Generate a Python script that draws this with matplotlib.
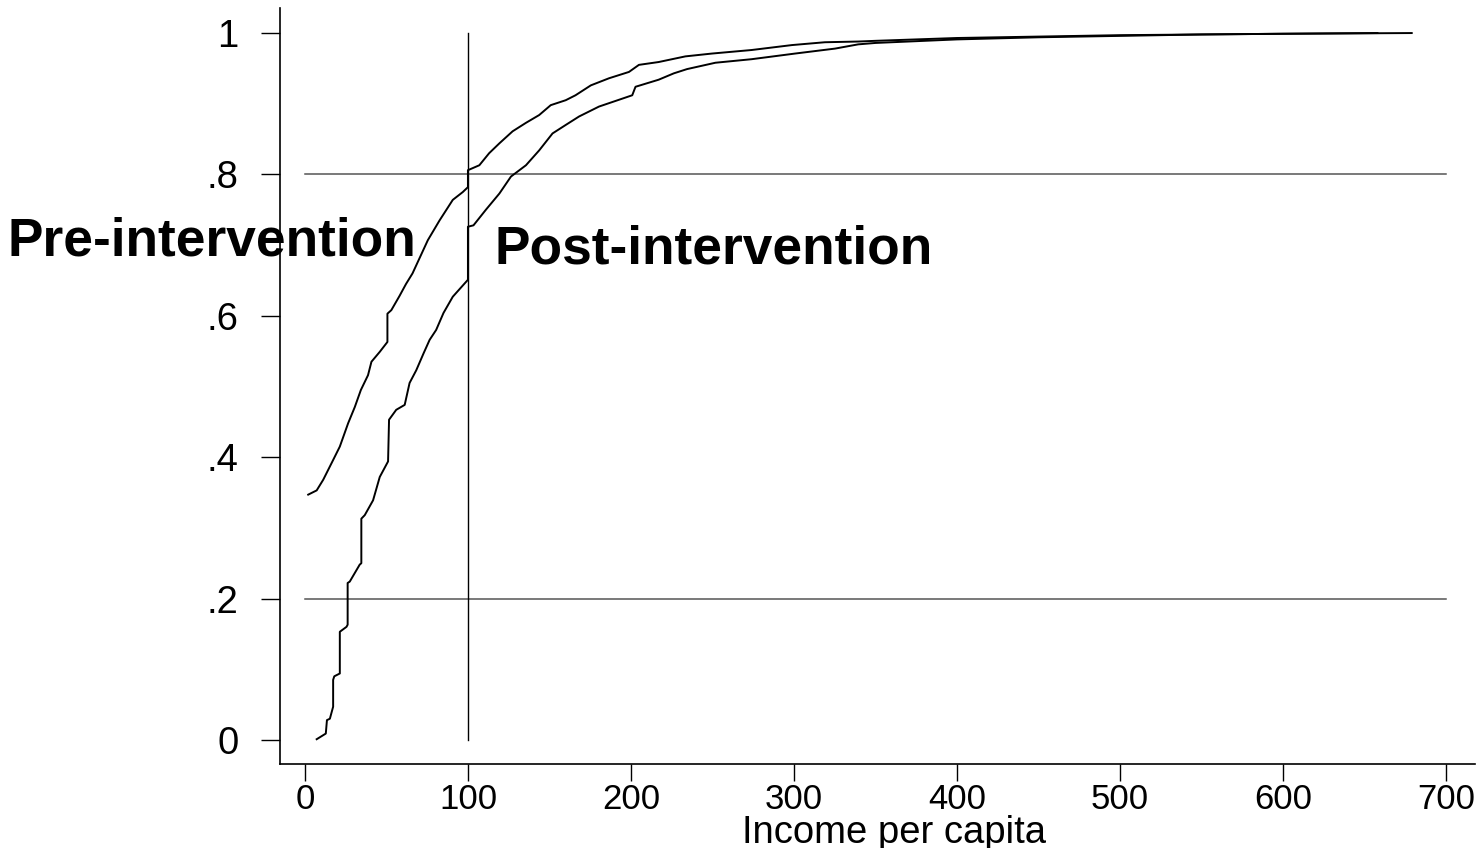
import numpy as np
import matplotlib
matplotlib.use("Agg")
import matplotlib.pyplot as plt

plt.rcParams["font.family"] = ["Liberation Sans", "DejaVu Sans"]

# Cumulative distribution of income per capita
pre_income = [2, 7.2, 11.2, 17.3, 21.4, 26.5, 30.6, 34.3, 38.7, 40.8,
              45.9, 50.6, 50.6, 53, 58, 62, 66, 75.4, 82.6, 90.7,
              96.8, 100, 100, 107, 113, 119.3, 127.4, 135.6, 143.7, 150.8,
              160, 166, 175.4, 186.5, 198.8, 204.9, 217, 233.4, 249.7, 274,
              298.8, 319, 339.4, 350, 400, 450, 500, 550, 600, 658]
pre_cdf = [0.347, 0.353, 0.368, 0.396, 0.415, 0.448, 0.471, 0.495, 0.516, 0.535,
           0.549, 0.563, 0.603, 0.608, 0.628, 0.645, 0.660, 0.707, 0.735, 0.764,
           0.775, 0.782, 0.806, 0.813, 0.830, 0.844, 0.861, 0.873, 0.884, 0.898,
           0.905, 0.912, 0.926, 0.936, 0.945, 0.955, 0.959, 0.967, 0.971, 0.976,
           0.983, 0.987, 0.988, 0.989, 0.993, 0.995, 0.997, 0.998, 0.999, 1.0]

post_income = [7.2, 12.8, 13.5, 15.3, 17.3, 17.3, 18, 21.4, 21.4, 25.5,
               26.2, 26.2, 27.5, 33.6, 34.6, 34.6, 36.7, 41.8, 45.9, 51,
               51.6, 56, 61.2, 64.2, 68.3, 72.8, 76.5, 80.5, 85, 90.7,
               100, 100, 103.4, 111, 119.3, 126.4, 135.6, 143.7, 151.9, 160,
               168.2, 180.4, 200.8, 202.8, 217, 226.3, 234.4, 251.8, 274, 300.7,
               325.2, 339.4, 350, 400, 450, 500, 550, 600, 679]
post_cdf = [0.001, 0.009, 0.028, 0.030, 0.047, 0.085, 0.090, 0.094, 0.153, 0.160,
            0.163, 0.222, 0.224, 0.248, 0.250, 0.313, 0.318, 0.339, 0.372, 0.394,
            0.453, 0.467, 0.474, 0.505, 0.523, 0.547, 0.566, 0.580, 0.604, 0.627,
            0.651, 0.726, 0.728, 0.750, 0.773, 0.797, 0.813, 0.834, 0.858, 0.870,
            0.882, 0.896, 0.912, 0.924, 0.934, 0.943, 0.949, 0.958, 0.963, 0.971,
            0.978, 0.984, 0.986, 0.991, 0.994, 0.996, 0.998, 0.999, 1.0]

x_ticks = [0, 100, 200, 300, 400, 500, 600, 700]
y_ticks = [0, 0.2, 0.4, 0.6, 0.8, 1.0]
y_ticklabels = ["0", ".2", ".4", ".6", ".8", "1"]
ref_y = [0.2, 0.8]
ref_x = 100

fig = plt.figure(figsize=(14.76, 8.48), dpi=100)
ax = fig.add_axes([0.1897, 0.0991, 0.8096, 0.8911])

for yv in ref_y:
    ax.plot([0, 700], [yv, yv], color="#555555", lw=1.1, zorder=1)
ax.plot([ref_x, ref_x], [0, 1], color="black", lw=1.0, zorder=1)

ax.plot(pre_income, pre_cdf, color="black", lw=1.4, zorder=2)
ax.plot(post_income, post_cdf, color="black", lw=1.4, zorder=2)

ax.set_xlim(-15.3, 717.8)
ax.set_ylim(-0.034, 1.035)

for side in ["top", "right"]:
    ax.spines[side].set_visible(False)
for side in ["left", "bottom"]:
    ax.spines[side].set_linewidth(1.2)

ax.set_xticks(x_ticks)
ax.set_yticks(y_ticks)
ax.set_yticklabels(y_ticklabels)
ax.tick_params(axis="x", length=12, width=1, labelsize=25, pad=2)
ax.tick_params(axis="y", length=14, width=1, labelsize=27.5, pad=16)

ax.set_xlabel("Income per capita", fontsize=27.5)
ax.xaxis.label.set_va("baseline")
ax.xaxis.set_label_coords(0.514, -0.104)

ax.text(68.5, 0.685, "Pre-intervention", ha="right", va="baseline",
        fontsize=38.3, fontweight="bold", clip_on=False, zorder=3)
ax.text(116.2, 0.674, "Post-intervention", ha="left", va="baseline",
        fontsize=38.3, fontweight="bold", clip_on=False, zorder=3)

fig.savefig("out.png", dpi=100, facecolor="white")
